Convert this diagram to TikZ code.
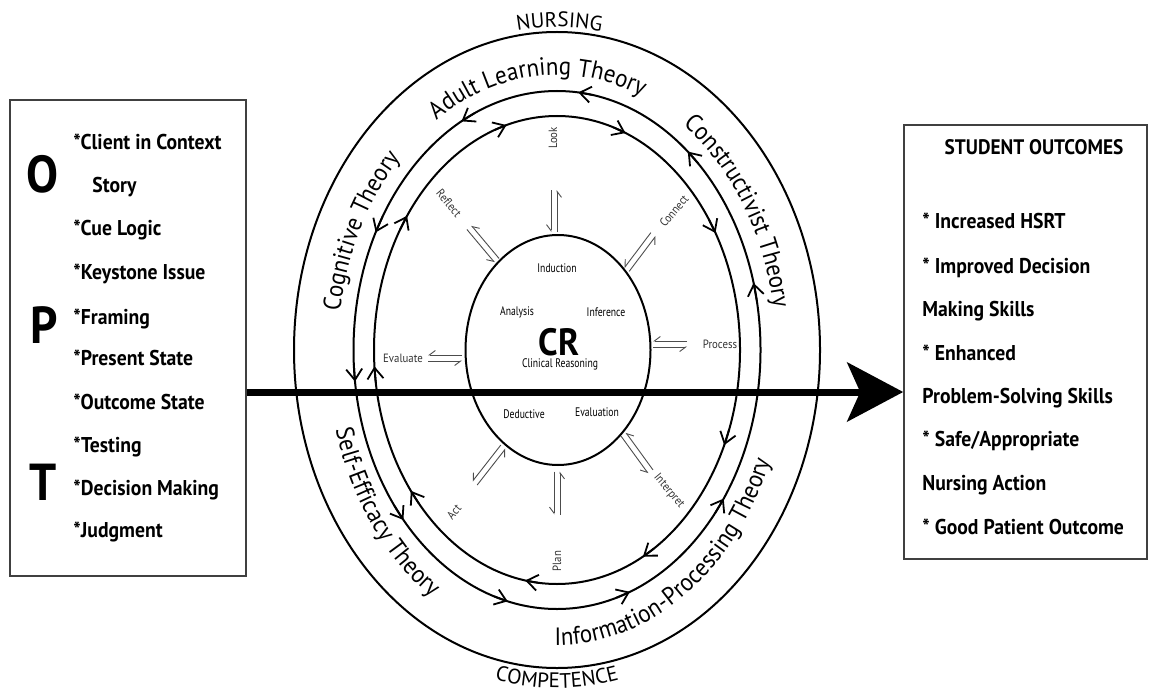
\documentclass[tikz,border=0pt]{standalone}
\usepackage{fontspec}
\setmainfont{PT Sans}
\newfontfamily\boxfont[FakeStretch=0.92]{PT Sans}
\newfontfamily\corefont[FakeStretch=0.78]{PT Sans}
\newfontfamily\phasefont[FakeStretch=0.9]{PT Sans}
\newfontfamily\ringfamily[FakeStretch=0.92]{PT Sans}
\newcommand\ringfont{\ringfamily\fontsize{12.5}{13}\selectfont}
\newcommand\capsfont{\fontsize{10.5}{11}\selectfont}
\usetikzlibrary{arrows.meta,calc,decorations.text}

\tikzset{
  every picture/.append style={x=0.5pt,y=0.5pt},
  ring/.style={line width=1pt},
  ringtip/.style={-{Straight Barb[length=5.5pt,width=8pt]},line width=0.9pt},
  pairtip/.style={-{Straight Barb[harpoon,swap,length=3pt,width=4.5pt]},line width=0.45pt,black!70},
  panel/.style={draw=black!75,line width=0.8pt,inner sep=0pt},
  bigletter/.style={inner sep=0pt,font=\boxfont\bfseries\fontsize{26}{26}\selectfont},
  optitem/.style={anchor=base west,inner sep=0pt,font=\boxfont\bfseries\fontsize{10.7}{12}\selectfont},
  phaselabel/.style={inner sep=0pt,font=\phasefont\fontsize{6}{7}\selectfont,black!80},
  corelabel/.style={inner sep=0pt,font=\corefont\fontsize{6.2}{7}\selectfont},
  ringlabel/.style={decorate,decoration={text along path,text align=center,text={|\ringfont|#1}}},
  capslabel/.style={decorate,decoration={text along path,text align=center,text={|\capsfont|#1}}},
  mainarrow/.style={line width=3.5pt,-{Stealth[length=28pt,width=29.5pt,inset=6.5pt]}}
}

\begin{document}
\begin{tikzpicture}
  \useasboundingbox (0,0) rectangle (1149,692);
  \coordinate (c) at (557,342);
  \coordinate (spine) at (0,300);

  % rings
  \draw[ring] (c) ellipse [x radius=263, y radius=318];
  \draw[ring] (c) ellipse [x radius=203.5, y radius=259];
  \draw[ring] (c) ellipse [x radius=183, y radius=234];
  \draw[ring] (558,342) ellipse [x radius=92.5, y radius=115];

  % flow marks on the two inner rings
  \foreach \t [evaluate=\t as \s using \t-4] in {15,50,84,118,153,187,221,256,291,325}
    \draw[ringtip] ($(c)+(\s:203.5 and 259)$) -- ($(c)+(\t:203.5 and 259)$);
  \foreach \t [evaluate=\t as \s using \t+4] in {145,106,68,30,-24,-62,-100,-143,-176}
    \draw[ringtip] ($(c)+(\s:183 and 234)$) -- ($(c)+(\t:183 and 234)$);

  % theories
  \path[ringlabel=Adult Learning Theory] ($(c)+(140:219 and 275)$) arc [start angle=140, end angle=50, x radius=219, y radius=275];
  \path[ringlabel=Cognitive Theory] ($(c)+(195:219 and 275)$) arc [start angle=195, end angle=109, x radius=219, y radius=275];
  \path[ringlabel=Constructivist Theory] ($(c)+(75:219 and 275)$) arc [start angle=75, end angle=-8, x radius=219, y radius=275];
  \path[ringlabel=Self-Efficacy Theory] ($(c)+(180:230 and 295)$) arc [start angle=180, end angle=256, x radius=230, y radius=295];
  \path[ringlabel=Information-Processing Theory] ($(c)+(253:230 and 295)$) arc [start angle=253, end angle=351, x radius=230, y radius=295];
  \path[capslabel=NURSING] ($(c)+(110:268 and 323)$) arc [start angle=110, end angle=69, x radius=268, y radius=323];
  \path[capslabel=COMPETENCE] ($(c)+(250:282 and 338)$) arc [start angle=250, end angle=290, x radius=282, y radius=338];

  % phase pairs
  \foreach \ph/\x/\y/\a/\l in {look/554/481/90/42, reflect/483/448/130/43, connect/640/440/53/44,
      process/670/348/0/34, evaluate/445/334/180/34, interpret/637/239/-54/46,
      plan/557/199/270/43, act/489/227/232/46}{
    \coordinate (\ph-in) at ($(\x,\y)+(\a+180:\l/2)$);
    \coordinate (\ph-out) at ($(\x,\y)+(\a:\l/2)$);
    \draw[pairtip] ([shift={(\a-90:3)}]\ph-in) -- ([shift={(\a-90:3)}]\ph-out);
    \draw[pairtip] ([shift={(\a+90:3)}]\ph-out) -- ([shift={(\a+90:3)}]\ph-in);
  }

  \node[phaselabel,rotate=90] (look) at (553,554) {Look};
  \node[phaselabel,rotate=-50] (reflect) at (449,489) {Reflect};
  \node[phaselabel,rotate=50] (connect) at (674,481) {Connect};
  \node[phaselabel] (process) at (720,348) {Process};
  \node[phaselabel] (evaluate) at (403,334) {Evaluate};
  \node[phaselabel,rotate=-50] (interpret) at (669,201) {Interpret};
  \node[phaselabel,rotate=90] (plan) at (557,131) {Plan};
  \node[phaselabel,rotate=50] (act) at (454,180) {Act};

  % core
  \node[corelabel] (induction) at (557,424) {Induction};
  \node[corelabel] (analysis) at (517,380) {Analysis};
  \node[corelabel] (inference) at (606,380) {Inference};
  \node[inner sep=0pt,font=\boxfont\bfseries\fontsize{19}{19}\selectfont] (cr) at (559,350) {CR};
  \node[corelabel] (clinical) at (560,328) {Clinical Reasoning};
  \node[corelabel] (deductive) at (524,278) {Deductive};
  \node[corelabel] (evaluation) at (597,280) {Evaluation};

  % OPT box
  \node[panel,minimum width=118pt,minimum height=238pt] (optbox) at (128,354) {};
  \node[bigletter] (letO) at (43,518) {O};
  \node[bigletter] (letP) at (44,367) {P};
  \node[bigletter] (letT) at (43,210) {T};
  \node[optitem] (client) at (73,542.5) {*Client in Context};
  \node[optitem] (story) at (92,499.5) {Story};
  \node[optitem] (cue) at (73,456.5) {*Cue Logic};
  \node[optitem] (keystone) at (73,412.5) {*Keystone Issue};
  \node[optitem] (framing) at (73,367.5) {*Framing};
  \node[optitem] (present) at (73,326.5) {*Present State};
  \node[optitem] (outcome) at (73,282.5) {*Outcome State};
  \node[optitem] (testing) at (73,239.5) {*Testing};
  \node[optitem] (decision) at (73,196.5) {*Decision Making};
  \node[optitem] (judgment) at (73,154.5) {*Judgment};

  % outcomes box
  \node[panel,minimum width=121.5pt,minimum height=217pt] (outbox) at (1025.5,350) {};
  \node[anchor=base,inner sep=0pt,font=\boxfont\bfseries\fontsize{10.5}{12}\selectfont] (outhead) at (1034,538) {STUDENT OUTCOMES};
  \node[optitem] (hsrt) at (922,464) {* Increased HSRT};
  \node[optitem] (improved) at (922,419) {* Improved Decision};
  \node[optitem] (making) at (922,376) {Making Skills};
  \node[optitem] (enhanced) at (922,332) {* Enhanced};
  \node[optitem] (problem) at (922,289) {Problem-Solving Skills};
  \node[optitem] (safe) at (922,246) {* Safe/Appropriate};
  \node[optitem] (action) at (922,202) {Nursing Action};
  \node[optitem] (good) at (922,158) {* Good Patient Outcome};

  % main flow
  \draw[mainarrow] (optbox.east |- spine) -- (outbox.west |- spine);
\end{tikzpicture}
\end{document}
